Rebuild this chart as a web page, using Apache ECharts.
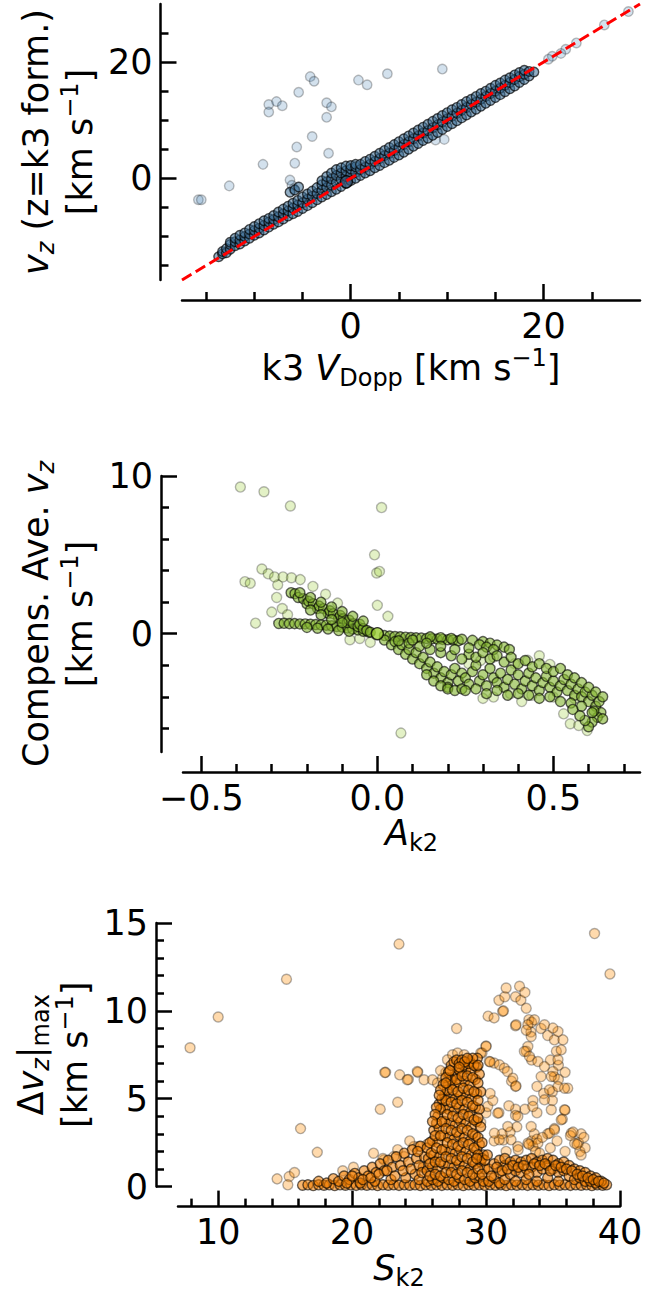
<!DOCTYPE html>
<html>
<head>
<meta charset="utf-8">
<title>k3 velocity diagnostics</title>
<script src="https://cdn.jsdelivr.net/npm/echarts@6/dist/echarts.min.js"></script>
<style>
  html, body { margin: 0; padding: 0; background: #fff; }
  #chart { width: 667px; height: 1291px; }
</style>
</head>
<body>
<div id="chart"></div>
<script>
// ---------- panel 1: v_z (z = k3 formation) vs k3 V_Dopp ----------
const p1Range = [-17.5, 30];
const p1Major = [0, 20];
const p1Minor = [-15, -10, -5, 5, 10, 15, 25];
const p1Diag = [-17.5, 30]; // y = x reference line ends

const p1Stray = [
  [-15.8, -3.7], [-15.5, -3.7], [-12.6, -1.3], [-9.1, 2.4], [-8.5, 12.7], [-8.5, 11.4],
  [-7.7, 13.2], [-7.1, 12.5], [-5.4, 14.8], [-5.6, 5.4], [-5.8, 2.6], [-4.2, 17.5],
  [-3.8, 16.7], [-4.0, 7.2], [-2.5, 13.0], [-2.0, 12.3], [-2.5, 10.5], [-2.3, 4.3],
  [0.8, 16.9], [1.7, 16.1], [3.8, 18.0], [9.5, 18.8], [9.7, 6.7], [8.8, 6.6],
  [28.8, 28.7], [26.3, 26.4], [23.4, 23.3], [22.3, 22.2], [21.8, 21.5], [20.9, 21.0],
  [20.5, 20.5], [-6.3, -0.3], [-6.1, -1.2], [-5.9, -1.8]
];

const p1Band = [
  [-13.7, -13.5], [-13.3, -13.0], [-13.3, -12.6], [-12.9, -12.8], [-12.9, -12.1],
  [-12.5, -12.2], [-12.5, -11.4], [-12.5, -11.0], [-12.0, -11.6], [-12.0, -10.9], [-12.0, -10.3],
  [-11.5, -11.3], [-11.5, -10.6], [-11.5, -9.8], [-11.0, -10.8], [-11.0, -10.0], [-11.0, -9.4],
  [-10.5, -10.3], [-10.5, -9.6], [-10.5, -8.8], [-10.0, -9.8], [-10.0, -9.0], [-10.0, -8.3],
  [-9.5, -9.4], [-9.5, -8.6], [-9.5, -7.8], [-9.0, -8.9], [-9.0, -8.1], [-9.0, -7.3],
  [-8.5, -8.4], [-8.5, -7.5], [-8.5, -6.9], [-8.0, -7.9], [-8.0, -7.1], [-8.0, -6.4],
  [-7.5, -7.5], [-7.5, -6.6], [-7.5, -5.8], [-7.0, -7.0], [-7.0, -6.1], [-7.0, -5.3],
  [-6.5, -6.5], [-6.5, -5.6], [-6.5, -4.8], [-6.0, -6.1], [-6.0, -5.1], [-6.0, -4.3],
  [-5.5, -5.7], [-5.5, -4.6], [-5.5, -3.8], [-5.0, -5.2], [-5.0, -4.2], [-5.0, -3.2],
  [-4.5, -4.7], [-4.5, -3.6], [-4.5, -2.7], [-4.0, -4.2], [-4.0, -3.1], [-4.0, -2.2],
  [-3.5, -3.7], [-3.5, -2.6], [-3.5, -1.6], [-3.0, -3.2], [-3.0, -2.1], [-3.0, -1.1], [-3.0, -0.4],
  [-2.5, -2.8], [-2.5, -1.6], [-2.5, -0.6], [-2.5, 0.3], [-2.0, -2.3], [-2.0, -1.2], [-2.0, -0.1], [-2.0, 0.9],
  [-1.5, -1.9], [-1.5, -0.7], [-1.5, 0.5], [-1.5, 1.5], [-1.0, -1.4], [-1.0, -0.2], [-1.0, 0.9], [-1.0, 1.8],
  [-0.5, -0.9], [-0.5, 0.3], [-0.5, 1.3], [-0.5, 2.1], [0.0, -0.4], [0.0, 0.6], [0.0, 1.6], [0.0, 2.2],
  [0.5, 0.0], [0.5, 1.0], [0.5, 2.0], [0.5, 2.4], [1.0, 0.5], [1.0, 1.5], [1.0, 2.4],
  [1.5, 0.9], [1.5, 1.9], [1.5, 2.9], [2.0, 1.3], [2.0, 2.4], [2.0, 3.3],
  [2.5, 1.8], [2.5, 2.9], [2.5, 3.8], [3.0, 2.2], [3.0, 3.4], [3.0, 4.3],
  [3.5, 2.7], [3.5, 3.9], [3.5, 4.8], [4.0, 3.1], [4.0, 4.3], [4.0, 5.3],
  [4.5, 3.6], [4.5, 4.8], [4.5, 5.8], [5.0, 4.0], [5.0, 5.3], [5.0, 6.3],
  [5.5, 4.5], [5.5, 5.8], [5.5, 6.8], [6.0, 5.0], [6.0, 6.3], [6.0, 7.3],
  [6.5, 5.5], [6.5, 6.8], [6.5, 7.8], [7.0, 6.0], [7.0, 7.3], [7.0, 8.3],
  [7.5, 6.5], [7.5, 7.8], [7.5, 8.8], [8.0, 6.9], [8.0, 8.2], [8.0, 9.3],
  [8.5, 7.4], [8.5, 8.7], [8.5, 9.8], [9.0, 7.9], [9.0, 9.2], [9.0, 10.3],
  [9.5, 8.4], [9.5, 9.7], [9.5, 10.8], [10.0, 8.9], [10.0, 10.2], [10.0, 11.3],
  [10.5, 9.4], [10.5, 10.7], [10.5, 11.8], [11.0, 9.9], [11.0, 11.2], [11.0, 12.2],
  [11.5, 10.4], [11.5, 11.7], [11.5, 12.7], [12.0, 10.9], [12.0, 12.2], [12.0, 13.2],
  [12.5, 11.4], [12.5, 12.7], [12.5, 13.6], [13.0, 11.9], [13.0, 13.1], [13.0, 14.1],
  [13.5, 12.4], [13.5, 13.6], [13.5, 14.6], [14.0, 12.9], [14.0, 14.1], [14.0, 15.0],
  [14.5, 13.4], [14.5, 14.6], [14.5, 15.5], [15.0, 13.9], [15.0, 15.0], [15.0, 16.0],
  [15.5, 14.4], [15.5, 15.5], [15.5, 16.4], [16.0, 14.9], [16.0, 16.0], [16.0, 16.9],
  [16.5, 15.4], [16.5, 16.5], [16.5, 17.3], [17.0, 15.9], [17.0, 17.0], [17.0, 17.8],
  [17.5, 16.5], [17.5, 17.5], [17.5, 18.2], [18.0, 17.0], [18.0, 17.9], [18.0, 18.6],
  [18.5, 17.6], [18.5, 18.4], [19.0, 18.3],
  [-6.3, -2.4], [-5.8, -2.0], [-5.4, -1.5]
];
const p1Mark = [[-0.45, -0.6]];

// ---------- panel 2: compensated average v_z vs A_k2 ----------
const p2XRange = [-0.552, 0.746];
const p2YRange = [-7.5, 10];
const p2XMajor = [-0.5, 0, 0.5];
const p2XMinor = [-0.4, -0.3, -0.2, -0.1, 0.1, 0.2, 0.3, 0.4, 0.6, 0.7];
const p2YMajor = [0, 10];
const p2YMinor = [-6, -4, -2, 2, 4, 6, 8];

const p2Stray = [
  [-0.389, 9.3], [-0.322, 9.0], [-0.247, 8.1], [0.012, 8.0], [-0.008, 5.0], [-0.002, 3.85],
  [0.006, 3.95], [0.067, -6.3], [-0.376, 3.3], [-0.361, 3.2], [-0.328, 4.1], [-0.346, 0.67],
  [-0.3, 1.37], [-0.286, 2.3], [-0.283, 3.1], [-0.31, 3.8], [-0.292, 3.6], [-0.268, 3.6],
  [-0.244, 3.55], [-0.219, 3.43], [-0.183, 3.0], [-0.147, 2.5], [-0.113, 1.94], [0.0, 1.8],
  [0.03, 1.1], [-0.078, -0.38], [-0.27, 1.6], [-0.255, 1.2], [-0.05, -0.3], [-0.02, -0.55],
  [0.33, -4.02], [0.378, -3.8], [0.439, -3.9], [0.5, -4.02], [0.56, -4.1], [0.548, -5.71],
  [0.572, -5.82], [0.529, -5.08], [0.596, -6.14], [0.26, -1.9], [0.294, -1.69], [0.33, -1.48],
  [0.39, -1.9], [0.427, -1.69], [0.46, -1.4], [0.49, -1.95], [0.3, -4.1], [0.41, -4.3]
];

const p2Core = [
  [-0.28, 0.65], [-0.265, 0.66], [-0.25, 0.64], [-0.235, 0.64], [-0.22, 0.62], [-0.205, 0.62],
  [-0.19, 0.6], [-0.175, 0.58], [-0.16, 0.56], [-0.145, 0.54], [-0.13, 0.5], [-0.115, 0.46],
  [-0.1, 0.42], [-0.085, 0.36], [-0.07, 0.3], [-0.055, 0.24], [-0.04, 0.16], [-0.025, 0.1],
  [-0.2, 0.4], [-0.17, 0.35], [-0.14, 0.3], [-0.11, 0.2], [-0.08, 0.15],
  [-0.245, 2.6], [-0.234, 2.54], [-0.225, 2.3], [-0.21, 2.22], [-0.2, 1.9], [-0.195, 2.05],
  [-0.182, 1.9], [-0.17, 1.6], [-0.165, 1.75], [-0.153, 1.59], [-0.14, 1.3], [-0.135, 1.45],
  [-0.125, 1.27], [-0.11, 1.0], [-0.105, 1.15], [-0.097, 0.95], [-0.085, 0.7], [-0.08, 0.85],
  [-0.068, 0.63], [-0.055, 0.45], [-0.05, 0.6], [-0.04, 0.32], [-0.03, 0.2], [-0.02, 0.1],
  [-0.22, 2.6], [-0.19, 2.3], [-0.16, 2.0], [-0.13, 1.7], [-0.1, 1.4], [-0.07, 1.1], [-0.04, 0.8],
  [-0.19, 1.5], [-0.16, 1.2], [-0.13, 0.9], [-0.1, 0.7],
  [0.02, -0.12], [0.035, -0.15], [0.05, -0.18], [0.065, -0.2], [0.08, -0.22], [0.095, -0.24],
  [0.11, -0.26], [0.125, -0.28], [0.14, -0.3], [0.155, -0.32], [0.17, -0.34], [0.185, -0.36],
  [0.2, -0.38], [0.215, -0.4], [0.23, -0.45],
  [0.15, -0.2], [0.18, -0.25], [0.21, -0.3], [0.24, -0.35], [0.27, -0.42], [0.3, -0.5],
  [0.32, -0.6], [0.34, -0.72], [0.36, -0.85], [0.375, -1.0], [0.29, -0.7], [0.31, -0.85], [0.33, -1.0],
  [0.02, -0.4], [0.04, -0.7], [0.05, -0.5], [0.06, -1.0], [0.07, -0.7], [0.08, -1.3], [0.09, -1.0],
  [0.1, -1.6], [0.11, -1.2], [0.12, -1.9], [0.13, -1.5], [0.14, -2.2], [0.15, -1.8], [0.16, -2.5],
  [0.17, -2.1], [0.18, -2.8], [0.19, -2.4], [0.2, -3.1], [0.21, -2.6], [0.2, -3.4], [0.22, -2.2],
  [0.24, -2.5], [0.23, -3.0], [0.25, -2.8], [0.26, -3.2], [0.27, -2.4], [0.28, -2.0], [0.29, -3.0],
  [0.3, -2.6], [0.31, -3.3], [0.32, -2.2], [0.33, -2.8], [0.34, -3.1], [0.35, -2.5], [0.36, -3.4],
  [0.37, -2.9], [0.38, -2.3], [0.39, -3.2], [0.4, -2.6], [0.41, -3.5], [0.42, -3.0], [0.43, -2.5],
  [0.44, -3.3], [0.45, -2.8], [0.46, -3.6], [0.47, -3.1], [0.48, -2.7], [0.49, -3.4], [0.5, -3.0],
  [0.51, -3.7], [0.52, -3.3], [0.53, -2.9], [0.54, -3.6], [0.55, -3.2], [0.56, -3.9], [0.57, -3.5],
  [0.58, -4.0], [0.59, -3.7], [0.6, -4.3], [0.61, -3.9], [0.62, -4.6], [0.63, -4.3], [0.635, -5.0],
  [0.625, -5.3], [0.61, -5.6], [0.6, -5.9], [0.59, -5.5], [0.615, -4.9],
  [0.14, -2.6], [0.16, -3.0], [0.18, -3.3], [0.2, -3.5], [0.22, -3.6], [0.24, -3.5],
  [0.26, -1.3], [0.28, -1.5], [0.3, -1.2], [0.32, -1.6], [0.34, -1.4], [0.36, -1.8], [0.38, -1.5],
  [0.4, -1.9], [0.42, -1.7], [0.44, -2.1], [0.46, -1.9], [0.48, -2.2], [0.5, -2.4], [0.52, -2.2],
  [0.54, -2.6], [0.56, -2.8], [0.58, -3.1], [0.6, -3.4], [0.62, -3.7], [0.64, -4.0],
  [0.25, -3.6], [0.28, -3.5], [0.31, -3.8], [0.34, -3.6], [0.37, -3.9], [0.4, -3.8], [0.43, -3.9],
  [0.46, -4.1], [0.49, -4.0], [0.52, -4.3], [0.55, -4.4], [0.58, -4.6], [0.61, -5.0], [0.64, -5.4],
  [0.575, -5.2], [0.555, -4.8],
  [0.06, -0.45], [0.09, -0.6], [0.12, -0.8], [0.15, -1.0], [0.18, -1.2], [0.21, -1.4], [0.24, -1.6],
  [0.1, -0.4], [0.14, -0.6], [0.18, -0.8], [0.22, -1.0], [0.26, -0.9]
];
const p2Mark = [[0, 0]];

// ---------- panel 3: |dv_z|max vs S_k2 ----------
const p3XRange = [7, 40];
const p3YRange = [0, 15];
const p3XMajor = [10, 20, 30, 40];
const p3XMinor = [8, 12, 14, 16, 18, 22, 24, 26, 28, 32, 34, 36, 38];
const p3YMajor = [0, 5, 10, 15];
const p3YMinor = [1, 2, 3, 4, 6, 7, 8, 9, 11, 12, 13, 14];

const p3Stray = [
  [7.9, 7.9], [10.0, 9.65], [15.1, 11.8], [23.5, 13.8], [38.1, 14.4], [39.25, 12.1],
  [16.15, 3.3], [17.4, 1.95], [14.4, 0.44], [15.3, 0.57], [15.7, 0.8], [15.2, 0.1],
  [22.1, 4.4], [22.5, 6.5], [23.4, 4.8], [23.55, 6.36], [24.2, 6.1], [24.9, 6.5], [22.44, 6.49],
  [27.8, 9.0], [30.15, 9.7], [30.6, 9.6], [31.24, 9.97], [30.0, 8.0], [29.7, 7.6],
  [30.96, 10.6], [31.4, 10.8], [31.5, 11.3], [31.3, 10.0], [32.2, 10.8], [32.5, 11.4], [32.6, 10.6],
  [32.9, 11.05], [33.0, 10.15], [32.2, 9.15], [33.2, 9.5], [33.35, 8.8], [33.0, 7.7], [33.4, 7.2],
  [32.2, 5.7], [31.9, 6.0], [33.4, 9.35], [34.1, 9.0], [34.6, 8.6], [35.1, 8.35], [35.25, 7.7],
  [34.8, 7.2], [35.4, 6.9], [35.9, 6.5], [35.1, 6.25], [35.4, 6.1], [34.95, 5.4], [36.1, 5.6],
  [34.95, 4.9], [35.9, 4.35], [35.7, 3.84], [35.1, 3.3], [34.6, 3.0], [33.8, 4.2], [32.9, 4.4],
  [33.5, 4.9], [33.8, 5.7], [34.3, 5.3], [32.2, 4.4], [31.7, 4.6], [32.2, 4.05], [32.3, 3.4],
  [31.8, 3.1], [31.3, 2.65], [33.4, 2.6], [33.6, 3.0], [33.5, 2.3], [33.8, 2.7], [30.96, 4.2],
  [30.6, 2.6], [31.2, 3.0], [30.0, 4.2], [29.6, 3.65], [36.9, 2.5], [37.1, 3.0], [37.0, 2.0],
  [37.4, 2.2], [30.12, 4.56], [30.87, 4.18], [30.99, 2.66], [30.62, 3.04], [31.62, 3.42],
  [31.87, 2.66], [32.37, 3.99], [32.37, 2.28], [33.12, 2.47], [33.87, 2.47], [33.37, 3.42],
  [33.49, 4.56], [34.36, 4.94], [34.87, 4.37], [34.74, 3.04], [35.11, 3.23], [34.11, 6.26],
  [34.74, 5.51], [34.99, 6.55], [35.37, 7.22], [35.61, 7.78], [35.74, 8.35], [35.37, 8.83],
  [34.99, 9.02], [34.36, 9.21], [33.61, 9.49], [33.12, 9.21], [33.37, 8.54], [33.12, 7.97],
  [32.86, 7.69], [33.24, 7.4], [33.87, 7.12], [34.36, 6.83], [34.87, 6.26], [35.37, 5.69],
  [35.86, 5.6], [35.86, 4.37], [35.61, 3.8], [36.36, 3.04], [36.61, 2.47], [32.24, 9.21], [33.0, 8.9],
  [21.6, 1.9], [22.37, 1.52], [23.12, 1.71], [23.87, 1.71], [24.62, 2.28], [25.0, 2.28],
  [27.12, 7.22], [27.5, 7.5], [27.87, 7.6], [28.37, 7.5], [28.74, 7.22], [29.6, 7.6], [30.0, 7.97],
  [30.24, 7.12], [30.6, 7.03], [31.0, 6.93], [31.36, 6.74], [31.6, 6.55], [32.0, 6.17], [32.24, 5.73],
  [30.3, 7.1], [30.5, 4.9], [30.3, 5.3], [24.12, 6.08], [24.87, 6.55], [25.37, 6.08], [26.0, 6.08],
  [26.37, 5.89], [26.75, 6.17], [27.0, 6.5], [27.3, 6.2], [26.6, 6.6],
  [19.3, 0.9], [20.1, 1.1], [22.3, 1.6], [23.4, 2.1], [24.3, 2.6], [25.6, 2.4],
  [33.2, 2.4], [33.7, 2.0], [34.2, 2.8], [34.8, 2.2], [35.3, 2.6], [35.9, 2.0], [36.3, 2.9],
  [36.8, 2.4], [37.1, 1.8], [36.5, 3.1], [37.3, 2.8], [34.0, 1.9], [32.4, 2.1], [31.5, 2.0]
];

const p3Core = [
  // floor row at the lower limit
  [16.3, 0.08], [16.7, 0.1], [17.1, 0.06], [17.5, 0.1], [17.9, 0.08], [18.3, 0.1], [18.7, 0.06],
  [19.1, 0.1], [19.5, 0.08], [19.9, 0.1], [20.3, 0.07], [20.7, 0.1], [21.1, 0.08], [21.5, 0.1],
  [21.9, 0.06], [22.3, 0.1], [22.7, 0.08], [23.1, 0.1], [23.5, 0.07], [23.9, 0.1], [24.3, 0.08],
  [24.7, 0.1], [25.1, 0.06], [25.5, 0.1], [25.9, 0.08], [26.3, 0.1], [26.7, 0.07], [27.1, 0.1],
  [27.5, 0.08], [27.9, 0.1], [28.3, 0.06], [28.7, 0.1], [29.1, 0.08], [29.5, 0.1], [29.9, 0.07],
  [30.3, 0.1], [30.7, 0.08], [31.1, 0.1], [31.5, 0.06], [31.9, 0.1], [32.3, 0.08], [32.7, 0.1],
  [33.1, 0.07], [33.5, 0.1], [33.9, 0.08], [34.3, 0.1], [34.7, 0.06], [35.1, 0.1], [35.5, 0.08],
  [35.9, 0.1], [36.3, 0.07], [36.7, 0.1], [37.1, 0.08], [37.5, 0.1], [37.9, 0.06], [38.3, 0.1],
  [38.7, 0.08], [39.0, 0.1],
  // rising shoulder
  [17.5, 0.3], [18.1, 0.2], [18.6, 0.45], [19.0, 0.3], [19.4, 0.6], [19.8, 0.4], [20.2, 0.75],
  [20.5, 0.5], [20.9, 0.9], [21.2, 0.6], [21.5, 1.1], [21.8, 0.8], [22.1, 1.3], [22.4, 0.9],
  [22.7, 1.5], [23.0, 1.1], [23.3, 1.7], [23.6, 1.2], [23.9, 1.9], [24.2, 1.4], [24.5, 2.1],
  [24.8, 1.6], [25.1, 2.3], [25.3, 1.1], [20.6, 0.2], [21.7, 0.3], [22.9, 0.4], [24.0, 0.5],
  [24.7, 0.7], [25.0, 0.4], [19.6, 0.2], [20.0, 0.6], [20.8, 0.4], [21.4, 0.5], [22.0, 0.7],
  [22.6, 0.9], [23.2, 0.6], [23.8, 0.9], [24.4, 1.0], [25.0, 1.2], [25.4, 1.7], [24.9, 2.0], [25.2, 0.8],
  // main spike
  [25.6, 0.3], [25.6, 0.9], [25.7, 1.6], [25.6, 2.2],
  [26.0, 0.4], [26.0, 1.1], [26.1, 1.8], [26.0, 2.6], [26.1, 3.2],
  [26.4, 0.3], [26.4, 1.0], [26.5, 1.7], [26.4, 2.5], [26.5, 3.3], [26.4, 4.0], [26.5, 4.7],
  [26.8, 0.5], [26.8, 1.3], [26.9, 2.1], [26.8, 2.9], [26.9, 3.7], [26.8, 4.5], [26.9, 5.2],
  [27.2, 0.4], [27.2, 1.2], [27.3, 2.0], [27.2, 2.8], [27.3, 3.6], [27.2, 4.4], [27.3, 5.1], [27.2, 5.8],
  [27.6, 0.3], [27.6, 1.1], [27.7, 1.9], [27.6, 2.7], [27.7, 3.5], [27.6, 4.3], [27.7, 5.0], [27.6, 5.7], [27.7, 6.3],
  [28.0, 0.5], [28.0, 1.3], [28.1, 2.1], [28.0, 2.9], [28.1, 3.7], [28.0, 4.5], [28.1, 5.2], [28.0, 5.9], [28.1, 6.5],
  [28.4, 0.4], [28.4, 1.2], [28.5, 2.0], [28.4, 2.8], [28.5, 3.6], [28.4, 4.4], [28.5, 5.2], [28.4, 6.0], [28.5, 6.7],
  [28.8, 0.3], [28.8, 1.0], [28.9, 1.8], [28.8, 2.6], [28.9, 3.4], [28.8, 4.2], [28.9, 5.0], [28.8, 5.8], [28.9, 6.6], [28.8, 7.1],
  [29.2, 0.5], [29.2, 1.3], [29.3, 2.1], [29.2, 2.9], [29.3, 3.7], [29.2, 4.5], [29.3, 5.3], [29.2, 6.1], [29.3, 6.8], [29.35, 7.3],
  [29.5, 0.6], [29.6, 1.4], [29.5, 2.4], [29.6, 3.4], [29.5, 4.4], [29.6, 5.4], [29.5, 6.4],
  [29.8, 0.3], [29.9, 1.0], [29.8, 1.8],
  [25.8, 0.6], [25.8, 1.3], [25.9, 1.9], [25.8, 2.5],
  [26.2, 0.7], [26.2, 1.4], [26.3, 2.2], [26.2, 2.9], [26.3, 3.6],
  [26.6, 0.6], [26.6, 1.4], [26.7, 2.1], [26.6, 2.9], [26.7, 3.7], [26.6, 4.4], [26.7, 5.0],
  [27.0, 0.8], [27.0, 1.7], [27.1, 2.5], [27.0, 3.3], [27.1, 4.1], [27.0, 4.9], [27.1, 5.5],
  [27.4, 0.8], [27.4, 1.6], [27.5, 2.4], [27.4, 3.2], [27.5, 4.0], [27.4, 4.8], [27.5, 5.5], [27.4, 6.1],
  [27.8, 0.7], [27.8, 1.5], [27.9, 2.3], [27.8, 3.1], [27.9, 3.9], [27.8, 4.7], [27.9, 5.4], [27.8, 6.1], [27.9, 6.7],
  [28.2, 0.9], [28.2, 1.7], [28.3, 2.5], [28.2, 3.3], [28.3, 4.1], [28.2, 4.9], [28.3, 5.6], [28.2, 6.3], [28.3, 6.9],
  [28.6, 0.8], [28.6, 1.6], [28.7, 2.4], [28.6, 3.2], [28.7, 4.0], [28.6, 4.8], [28.7, 5.5], [28.6, 6.3], [28.7, 7.0],
  [29.0, 0.7], [29.0, 1.4], [29.1, 2.2], [29.0, 3.0], [29.1, 3.8], [29.0, 4.6], [29.1, 5.4], [29.0, 6.2], [29.1, 6.9], [29.0, 7.3],
  [29.4, 1.0], [29.4, 1.8], [29.4, 2.8], [29.4, 3.9], [29.4, 4.9], [29.4, 5.9], [29.4, 6.9],
  [29.7, 0.7], [29.7, 1.6], [29.7, 2.5],
  // upper-left flank of the spike
  [27.2, 6.5], [27.4, 6.9], [27.6, 7.1], [27.8, 7.2], [28.0, 7.0], [28.2, 7.2], [28.4, 7.1],
  [27.0, 6.2], [26.8, 5.8], [26.6, 5.5], [26.5, 5.2], [27.0, 5.9], [27.3, 6.6], [28.6, 7.3], [28.0, 6.8],
  [26.3, 4.5], [26.2, 4.1], [26.0, 3.7],
  // low band on the right
  [30.2, 0.3], [30.2, 1.0], [30.6, 0.5], [30.6, 1.3], [31.0, 0.8], [31.0, 1.5], [31.0, 0.2],
  [31.4, 1.2], [31.4, 1.6], [31.4, 0.4], [31.8, 1.4], [31.8, 0.7], [32.2, 1.5], [32.2, 0.9],
  [32.2, 0.3], [32.6, 1.4], [32.6, 0.8], [33.0, 1.5], [33.0, 1.0], [33.0, 0.4], [33.4, 1.6],
  [33.4, 1.1], [33.8, 1.4], [33.8, 0.8], [33.8, 0.3], [34.2, 1.5], [34.2, 1.0], [34.6, 1.6],
  [34.6, 1.2], [34.6, 0.5], [35.0, 1.5], [35.0, 1.0], [35.4, 1.3], [35.4, 0.8], [35.4, 0.3],
  [35.8, 1.4], [35.8, 0.9], [36.2, 1.2], [36.2, 0.6], [36.6, 1.0], [36.6, 0.4], [37.0, 0.9],
  [37.0, 0.5], [37.4, 0.8], [37.4, 0.3], [37.8, 0.6], [37.8, 0.3], [38.2, 0.5], [38.2, 0.2], [38.6, 0.3],
  [30.4, 0.6], [30.8, 1.1], [31.2, 0.9], [31.6, 1.0], [32.0, 1.2], [32.4, 1.1], [32.8, 1.2],
  [33.2, 0.7], [33.6, 1.3], [34.0, 1.2], [34.4, 1.3], [34.8, 0.9], [35.2, 1.2], [35.6, 1.1],
  [36.0, 1.0], [36.4, 0.9], [36.8, 0.7], [37.2, 0.6], [37.6, 0.5], [38.0, 0.4], [38.4, 0.3],
  [38.8, 0.2], [29.9, 1.5], [30.1, 1.8], [29.3, 1.6]
];

// ---------- shared styling ----------
const FONT = 'DejaVu Sans';
const rich = {
  r: { fontSize: 35, fontFamily: FONT, color: '#000', lineHeight: 44 },
  i: { fontSize: 35, fontFamily: FONT, fontStyle: 'italic', color: '#000', lineHeight: 44 },
  sub: { fontSize: 24, fontFamily: FONT, color: '#000', lineHeight: 18, verticalAlign: 'bottom' },
  isub: { fontSize: 24, fontFamily: FONT, fontStyle: 'italic', color: '#000', lineHeight: 18, verticalAlign: 'bottom' },
  sup: { fontSize: 24, fontFamily: FONT, color: '#000', lineHeight: 18, verticalAlign: 'top' }
};

function minusFmt(digits) {
  return function (v) {
    const s = digits == null ? String(Math.abs(v)) : Math.abs(v).toFixed(digits);
    return (v < 0 ? '\u2212' : '') + s;
  };
}

// two axes per side: one carries the line, major ticks and labels, the other the short minor ticks
function axisPair(grid, range, major, minor, offset, fmt, name, nameGap, vertical) {
  const base = {
    type: 'value', gridIndex: grid, min: range[0], max: range[1], offset: offset,
    position: vertical ? 'left' : 'bottom',
    splitLine: { show: false }, silent: true
  };
  const main = Object.assign({}, base, {
    axisLine: { show: true, onZero: false, lineStyle: { color: '#000', width: 2.5 } },
    axisTick: { show: true, inside: true, length: 16, customValues: major, lineStyle: { color: '#000', width: 2.5 } },
    axisLabel: { show: true, customValues: major, formatter: fmt, fontSize: 35, fontFamily: FONT, color: '#000', margin: 8 },
    name: name, nameLocation: 'middle', nameGap: nameGap,
    nameTextStyle: { rich: rich, fontSize: 35, fontFamily: FONT, color: '#000' }
  });
  if (vertical) main.nameRotate = 90;
  const sub = Object.assign({}, base, {
    axisLine: { show: false, onZero: false },
    axisTick: { show: true, inside: true, length: 8, customValues: minor, lineStyle: { color: '#000', width: 2.5 } },
    axisLabel: { show: false }
  });
  return [main, sub];
}

function dots(xi, yi, data, fill, edge, size, z) {
  return {
    type: 'scatter', xAxisIndex: xi, yAxisIndex: yi, data: data, symbolSize: size || 9.5,
    itemStyle: { color: fill, borderColor: edge, borderWidth: 1.4 },
    silent: true, clip: true, z: z || 2
  };
}

const grids = [
  { left: 182, top: 4, width: 458, height: 276 },
  { left: 183, top: 476, width: 457, height: 276 },
  { left: 178, top: 923, width: 442, height: 264 }
];

const xAxes = [].concat(
  axisPair(0, p1Range, p1Major, p1Minor, 20, minusFmt(null),
    '{r|k3 }{i|V}{sub|Dopp}{r| [km s}{sup|\u22121}{r|]}', 46, false),
  axisPair(1, p2XRange, p2XMajor, p2XMinor, 20, minusFmt(1),
    '{i|A}{sub|k2}', 38, false),
  axisPair(2, p3XRange, p3XMajor, p3XMinor, 20, minusFmt(null),
    '{i|S}{sub|k2}', 36, false)
);
const yAxes = [].concat(
  axisPair(0, p1Range, p1Major, p1Minor, 21.5, minusFmt(null),
    '{i|v}{isub|z}{r| (z=k3 form.)}\n{r|[km s}{sup|\u22121}{r|]}', 57, true),
  axisPair(1, p2YRange, p2YMajor, p2YMinor, 22, minusFmt(null),
    '{r|Compens. Ave. }{i|v}{isub|z}\n{r|[km s}{sup|\u22121}{r|]}', 57, true),
  axisPair(2, p3YRange, p3YMajor, p3YMinor, 22, minusFmt(null),
    '{r|\u0394}{i|v}{isub|z}{r||}{sub|max}\n{r|[km s}{sup|\u22121}{r|]}', 53, true)
);

const diagLine = p1Diag.map(function (v) { return [v, v]; });

const option = {
  animation: false,
  backgroundColor: '#fff',
  grid: grids,
  xAxis: xAxes,
  yAxis: yAxes,
  series: [
    dots(0, 0, p1Stray, 'rgba(70,130,180,0.3)', 'rgba(0,0,0,0.32)', 9.5),
    dots(0, 0, p1Band, 'rgba(60,110,150,0.7)', 'rgba(0,0,0,0.85)', 9.5, 3),
    dots(0, 0, p1Mark, 'rgba(50,80,110,0.85)', '#000', 12, 4),
    {
      type: 'line', xAxisIndex: 0, yAxisIndex: 0, data: diagLine, symbol: 'none', silent: true,
      lineStyle: { color: '#ff0000', width: 3, type: [11, 5] }, z: 5, clip: true
    },
    dots(2, 2, p2Stray, 'rgba(154,205,50,0.35)', 'rgba(0,0,0,0.35)', 10),
    dots(2, 2, p2Core, 'rgba(130,180,45,0.75)', 'rgba(0,0,0,0.75)', 10, 3),
    dots(2, 2, p2Mark, 'rgb(154,205,50)', '#000', 12, 4),
    dots(4, 4, p3Stray, 'rgba(255,140,0,0.4)', 'rgba(0,0,0,0.38)', 10),
    dots(4, 4, p3Core, 'rgba(240,125,0,0.7)', 'rgba(0,0,0,0.75)', 10, 3)
  ]
};

const chart = echarts.init(document.getElementById('chart'), null, { renderer: 'svg' });
chart.setOption(option);
</script>
</body>
</html>
